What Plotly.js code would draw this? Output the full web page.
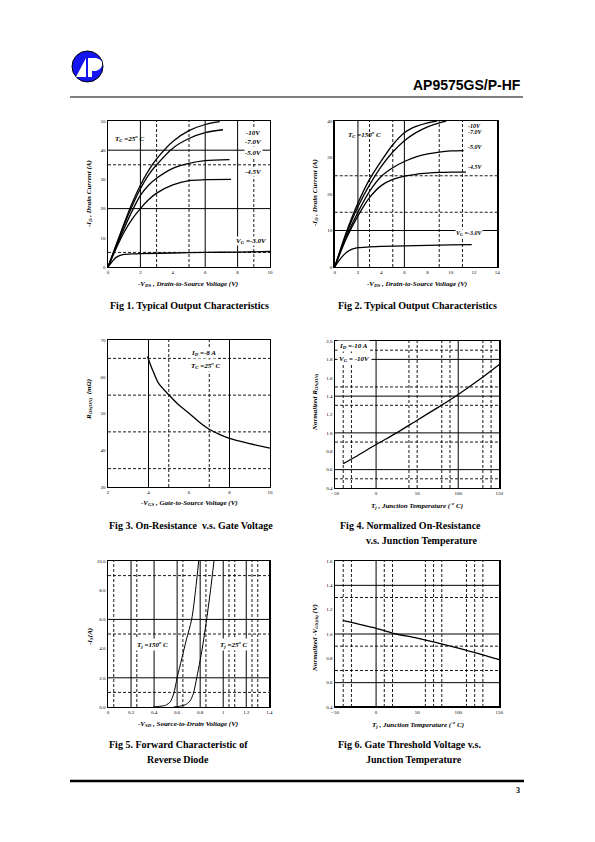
<!DOCTYPE html>
<html><head><meta charset="utf-8">
<script src="https://cdn.plot.ly/plotly-3.0.1.min.js"></script>
<style>html,body{margin:0;padding:0;background:#fff}#chart{width:595px;height:842px}</style>
</head><body><div id="chart"></div>
<script>
// ---------- DATA ----------
// Fig 1 (Tc = 25 C) : -VDS (V) vs -ID (A)
const f1x_10 = [0, 0.5, 1, 1.5, 2, 2.5, 3, 4, 5, 6, 6.9];
const f1y_10 = [0, 7.5, 15, 22, 28, 33, 37, 43, 46.7, 48.8, 49.8];
const f1x_7 = [0, 0.5, 1, 1.5, 2, 2.5, 3, 4, 5, 6, 7.1];
const f1y_7 = [0, 7.3, 14.5, 21, 26.8, 31.5, 35, 40.7, 44, 46, 47];
const f1x_5 = [0, 0.5, 1, 1.5, 2, 2.5, 3, 4, 5, 6, 7.5];
const f1y_5 = [0, 6.8, 13.3, 19.3, 24.5, 28, 30.4, 33.8, 35.5, 36.4, 36.8];
const f1x_45 = [0, 0.5, 1, 1.5, 2, 2.5, 3, 4, 5, 6, 7.6];
const f1y_45 = [0, 6.3, 12, 16.5, 20, 23, 25.3, 28.1, 29.6, 29.9, 30];
const f1x_3 = [0, 0.25, 0.5, 0.75, 1, 1.5, 2, 4, 6, 8, 10];
const f1y_3 = [0, 1.8, 3.3, 4.0, 4.3, 4.5, 4.6, 4.8, 5.0, 5.1, 5.3];
const f1Labels = ['-10V', '-7.0V', '-5.0V', '-4.5V'];
const f1LabelY = [45.8, 42.7, 39, 32.5];

// Fig 2 (Tc = 150 C)
const f2x_10 = [0, 1, 2, 3, 4, 5, 6, 7, 8, 8.8];
const f2y_10 = [0, 9.5, 17.5, 24, 29, 33.5, 36.8, 38.5, 39.5, 40];
const f2x_7 = [0, 1, 2, 3, 4, 5, 6, 7, 8, 9, 9.6];
const f2y_7 = [0, 9, 16.5, 22.5, 27.5, 31.5, 34.6, 36.8, 38.4, 39.5, 40];
const f2x_5 = [0, 1, 2, 3, 4, 5, 6, 7, 8, 9, 10, 11.1];
const f2y_5 = [0, 8.3, 15, 20.7, 24.8, 27.2, 28.9, 30.2, 31, 31.5, 31.8, 31.9];
const f2x_45 = [0, 1, 2, 3, 4, 5, 6, 7, 8, 9, 10, 11.3];
const f2y_45 = [0, 7.8, 14, 19, 22.3, 24, 24.9, 25.4, 25.7, 25.9, 26, 26];
const f2x_3 = [0, 0.5, 1, 1.5, 2, 3, 4, 6, 8, 10, 11.8];
const f2y_3 = [0, 2.3, 4, 4.9, 5.3, 5.5, 5.65, 5.8, 5.95, 6.05, 6.15];
const f2Labels = ['-10V', '-7.0V', '-5.0V', '-4.5V'];
const f2LabelY = [38.6, 36.9, 32.9, 27.5];

// Fig 3 : -VGS (V) vs RDS(ON) (mOhm)
const f3x = [3.95, 4.1, 4.25, 4.5, 5, 5.5, 6, 6.5, 7, 7.5, 8, 9, 10];
const f3y = [65.5, 63.2, 61.2, 58.2, 55.1, 52.3, 50.1, 47.7, 45.7, 44.3, 43.2, 41.8, 40.6];

// Fig 4 : Tj (C) vs normalized RDS(ON)
const f4x = [-40, -25, 0, 25, 50, 75, 100, 125, 150];
const f4y = [0.665, 0.74, 0.873, 1.0, 1.138, 1.275, 1.418, 1.575, 1.745];

// Fig 5 : -VSD (V) vs -IS (A)
const f5x_150 = [0.39, 0.45, 0.5, 0.54, 0.57, 0.6, 0.64, 0.68, 0.726, 0.76, 0.787];
const f5y_150 = [0, 0.05, 0.12, 0.35, 0.9, 2.0, 3.3, 4.6, 6.0, 8.0, 10];
const f5x_25 = [0.57, 0.62, 0.67, 0.71, 0.74, 0.77, 0.8, 0.83, 0.856, 0.89, 0.92];
const f5y_25 = [0, 0.05, 0.15, 0.4, 0.9, 2.0, 3.2, 4.6, 6.0, 8.0, 10];

// Fig 6 : Tj (C) vs normalized -VGS(th)
const f6x = [-40, 0, 25, 50, 100, 150];
const f6y = [1.11, 1.047, 1.0, 0.966, 0.884, 0.79];

// Grid lines (axis values)
const g1 = {sx: [2, 6, 8], dx: [3, 5, 9], sy: [20, 40], dy: [5, 35]};
const g2 = {sx: [2, 6], dx: [3, 5, 9, 11], sy: [10], dy: [15, 25]};
const g3 = {sx: [4, 8], dx: [5, 7], sy: [], dy: [35, 45, 55, 65]};
const g4 = {sx: [0, 100], dx: [-40, -30, 40, 50, 80, 90, 130, 140], sy: [0.6, 1.0, 1.4, 1.8], dy: [0.5, 0.9, 1.3, 1.5, 1.9]};
const g5 = {sx: [0.2, 0.4, 0.6, 0.8, 1.0, 1.2], dx: [0.05, 0.25, 0.65, 0.85, 1.05, 1.1, 1.25, 1.3], sy: [2, 6], dy: [1, 5, 9]};
const g6 = {sx: [0], dx: [-40, -30, 10, 20, 60, 70, 80, 110, 120, 130], sy: [0.6, 1.0, 1.4], dy: [0.7, 0.9, 1.3]};

// ---------- LAYOUT HELPERS ----------
const W = 595, H = 842;
const PX = x => x / W, PY = y => 1 - y / H;
const serif = 'Liberation Serif, Times New Roman, serif';
const sans = 'Liberation Sans, Arial, sans-serif';
const boxes = [
  [108, 270, 121, 267],
  [334.7, 497.3, 121, 267],
  [108, 270, 340, 487],
  [335, 499.3, 341, 488],
  [108, 269.3, 561, 707],
  [335, 499.3, 561, 707]
];
const ranges = [
  {x: [0, 10], y: [0, 50], dx: 2, dy: 10, fy: ''},
  {x: [0, 14], y: [0, 40], dx: 2, dy: 10, fy: ''},
  {x: [2, 10], y: [30, 70], dx: 2, dy: 10, fy: ''},
  {x: [-50, 150], y: [0.4, 2.0], dx: 50, dy: 0.2, fy: '.1f'},
  {x: [0, 1.4], y: [0, 10], dx: 0.2, dy: 2, fy: '.1f'},
  {x: [-50, 150], y: [0.4, 1.6], dx: 50, dy: 0.2, fy: '.1f'}
];

const layout = {
  width: W, height: H, margin: {l: 0, r: 0, t: 0, b: 0},
  paper_bgcolor: '#fff', plot_bgcolor: '#fff', showlegend: false,
  font: {family: serif, color: '#000', size: 10},
  shapes: [], annotations: []
};

boxes.forEach((b, i) => {
  const n = i === 0 ? '' : String(i + 1);
  const r = ranges[i];
  layout['xaxis' + n] = {
    domain: [PX(b[0]), PX(b[1])], range: r.x, anchor: 'y' + n,
    dtick: r.dx, tick0: r.x[0], showgrid: false, zeroline: false,
    showline: true, mirror: true, linecolor: '#000', linewidth: 1.4,
    ticks: '', tickfont: {family: serif, size: 5, color: '#000'}, fixedrange: true
  };
  layout['yaxis' + n] = {
    domain: [PY(b[3]), PY(b[2])], range: r.y, anchor: 'x' + n,
    dtick: r.dy, tick0: r.y[0], tickformat: r.fy, showgrid: false, zeroline: false,
    showline: true, mirror: true, linecolor: '#000', linewidth: 1.4,
    ticks: '', tickfont: {family: serif, size: 5, color: '#000'}, fixedrange: true
  };
});

// grid shapes
[g1, g2, g3, g4, g5, g6].forEach((g, i) => {
  const n = i === 0 ? '' : String(i + 1);
  const solid = {color: '#000', width: 1};
  const dash = {color: '#000', width: 0.9, dash: '3px,2px'};
  g.sx.forEach(v => layout.shapes.push({type: 'line', layer: 'below', xref: 'x' + n, yref: 'y' + n + ' domain', x0: v, x1: v, y0: 0, y1: 1, line: solid}));
  g.dx.forEach(v => layout.shapes.push({type: 'line', layer: 'below', xref: 'x' + n, yref: 'y' + n + ' domain', x0: v, x1: v, y0: 0, y1: 1, line: dash}));
  g.sy.forEach(v => layout.shapes.push({type: 'line', layer: 'below', xref: 'x' + n + ' domain', yref: 'y' + n, x0: 0, x1: 1, y0: v, y1: v, line: solid}));
  g.dy.forEach(v => layout.shapes.push({type: 'line', layer: 'below', xref: 'x' + n + ' domain', yref: 'y' + n, x0: 0, x1: 1, y0: v, y1: v, line: dash}));
});
// thicker bottom edge on Fig 6
layout.shapes.push({type: 'line', xref: 'x6 domain', yref: 'y6 domain', x0: 0, x1: 1, y0: 0, y1: 0, line: {color: '#000', width: 2.2}});

// ---------- TRACES ----------
const traces = [];
function curve(x, y, n, w) {
  traces.push({x: x, y: y, xaxis: 'x' + n, yaxis: 'y' + n, type: 'scatter', mode: 'lines',
    line: {color: '#000', width: w || 1.3, shape: 'spline', smoothing: 0.8}, hoverinfo: 'skip'});
}
curve(f1x_10, f1y_10, ''); curve(f1x_7, f1y_7, ''); curve(f1x_5, f1y_5, ''); curve(f1x_45, f1y_45, ''); curve(f1x_3, f1y_3, '');
curve(f2x_10, f2y_10, '2'); curve(f2x_7, f2y_7, '2'); curve(f2x_5, f2y_5, '2'); curve(f2x_45, f2y_45, '2'); curve(f2x_3, f2y_3, '2');
curve(f3x, f3y, '3');
curve(f4x, f4y, '4');
curve(f5x_150, f5y_150, '5', 1.0); curve(f5x_25, f5y_25, '5', 1.0);
curve(f6x, f6y, '6');

// ---------- TEXT ----------
const A = layout.annotations;
const lab = {family: serif, size: 7, color: '#000', weight: 'bold', style: 'italic'};
const lab6 = {family: serif, size: 6, color: '#000', weight: 'bold', style: 'italic'};
function note(n, x, y, text, opts) {
  A.push(Object.assign({xref: 'x' + n, yref: 'y' + n, x: x, y: y, text: text, showarrow: false,
    font: lab, xanchor: 'center', yanchor: 'middle'}, opts || {}));
}
function paperText(x, y, text, font, opts) {
  A.push(Object.assign({xref: 'paper', yref: 'paper', x: PX(x), y: PY(y), text: text, showarrow: false,
    font: font, xanchor: 'center', yanchor: 'middle'}, opts || {}));
}
f1Labels.forEach((t, i) => note('', 9.0, f1LabelY[i], t, {bgcolor: '#fff', borderpad: 0}));
note('', 8.87, 8.8, 'V<sub>G</sub> =-3.0V', {bgcolor: '#fff', borderpad: 0});
note('', 1.36, 44, 'T<sub>C</sub> =25<sup>o</sup> C');
f2Labels.forEach((t, i) => note('2', 12.06, f2LabelY[i], t, {font: lab6, bgcolor: '#fff', borderpad: 0}));
note('2', 11.6, 9.3, 'V<sub>G</sub> =-3.0V', {font: lab6, bgcolor: '#fff', borderpad: 0});
note('2', 2.6, 36.2, 'T<sub>C</sub> =150<sup>o</sup> C');
note('3', 6.0, 66.4, 'I<sub>D</sub> =-8 A', {xanchor: 'left', bgcolor: '#fff'});
note('3', 6.0, 63.0, 'T<sub>C</sub> =25<sup>o</sup> C', {xanchor: 'left', bgcolor: '#fff'});
note('4', -48, 1.95, 'I<sub>D</sub> =-10 A', {xanchor: 'left', bgcolor: '#fff'});
note('4', -48, 1.80, 'V<sub>G</sub> = -10V', {xanchor: 'left', bgcolor: '#fff'});
note('5', 0.39, 4.3, 'T<sub>j</sub> =150<sup>o</sup> C', {bgcolor: '#fff'});
note('5', 1.09, 4.3, 'T<sub>j</sub> =25<sup>o</sup> C', {bgcolor: '#fff'});

// axis titles
const at = {family: serif, size: 7, color: '#000', weight: 'bold', style: 'italic'};
paperText(188, 284, '-V<sub>DS</sub> , Drain-to-Source Voltage (V)', at);
paperText(417, 284, '-V<sub>DS</sub> , Drain-to-Source Voltage (V)', at);
paperText(190, 503, '-V<sub>GS</sub> , Gate-to-Source Voltage (V)', at);
paperText(417, 505, 'T<sub>j</sub> , Junction Temperature ( <sup>o</sup> C)', at);
paperText(188, 724, '-V<sub>SD</sub> , Source-to-Drain Voltage (V)', at);
paperText(418, 724, 'T<sub>j</sub> , Junction Temperature ( <sup>o</sup> C)', at);
paperText(89, 194, '-I<sub>D</sub> , Drain Current (A)', at, {textangle: -90});
paperText(315, 193, '-I<sub>D</sub> , Drain Current (A)', at, {textangle: -90});
paperText(89, 400, 'R<sub>DS(ON)</sub>  (m<b>Ω</b>)', at, {textangle: -90});
paperText(315, 402, 'Normalized R<sub>DS(ON)</sub>', at, {textangle: -90});
paperText(90, 637, '-I<sub>S</sub>(A)', at, {textangle: -90});
paperText(315, 638, 'Normalized -V<sub>GS(th)</sub> (V)', at, {textangle: -90});

// captions
const cap = {family: serif, size: 10, color: '#000', weight: 'bold'};
paperText(189, 305, 'Fig 1. Typical Output Characteristics', cap);
paperText(418, 305, 'Fig 2. Typical Output Characteristics', cap);
paperText(191, 525, 'Fig 3. On-Resistance  v.s. Gate Voltage', cap);
paperText(410, 525, 'Fig 4. Normalized On-Resistance', cap);
paperText(421, 540, 'v.s. Junction Temperature', cap);
paperText(178, 744, 'Fig 5. Forward Characteristic of', cap);
paperText(178, 759, 'Reverse Diode', cap);
paperText(409, 744, 'Fig 6. Gate Threshold Voltage v.s.', cap);
paperText(414, 759, 'Junction Temperature', cap);

// header / footer
paperText(523, 85, 'AP9575GS/P-HF', {family: sans, size: 14, color: '#000', weight: 'bold'}, {xanchor: 'right'});
paperText(522, 790, '3', {family: serif, size: 8, color: '#000', weight: 'bold'}, {xanchor: 'right'});
layout.shapes.push({type: 'line', xref: 'paper', yref: 'paper', x0: PX(70), x1: PX(523), y0: PY(97), y1: PY(97), line: {color: '#000', width: 1}});
layout.shapes.push({type: 'line', xref: 'paper', yref: 'paper', x0: PX(70), x1: PX(524), y0: PY(781), y1: PY(781), line: {color: '#000', width: 2.5}});
// logo
layout.shapes.push({type: 'circle', xref: 'paper', yref: 'paper', x0: PX(72), x1: PX(103), y0: PY(82), y1: PY(51), fillcolor: '#1515f0', line: {color: '#000', width: 1}});
function pth(pts) { return 'M' + pts.map(p => PX(p[0]).toFixed(5) + ',' + PY(p[1]).toFixed(5)).join(' L') + ' Z'; }
layout.shapes.push({type: 'path', xref: 'paper', yref: 'paper', path: pth([[76, 77], [86, 58], [86, 77]]), fillcolor: '#fff', line: {width: 0}});
layout.shapes.push({type: 'path', xref: 'paper', yref: 'paper', path: pth([[88, 58], [96, 58], [100, 59.5], [102, 62], [102, 66], [100, 69], [96, 71], [92, 71], [92, 77], [88, 77]]), fillcolor: '#fff', line: {width: 0}});

Plotly.newPlot('chart', traces, layout, {staticPlot: true, displayModeBar: false});
</script>
</body></html>
